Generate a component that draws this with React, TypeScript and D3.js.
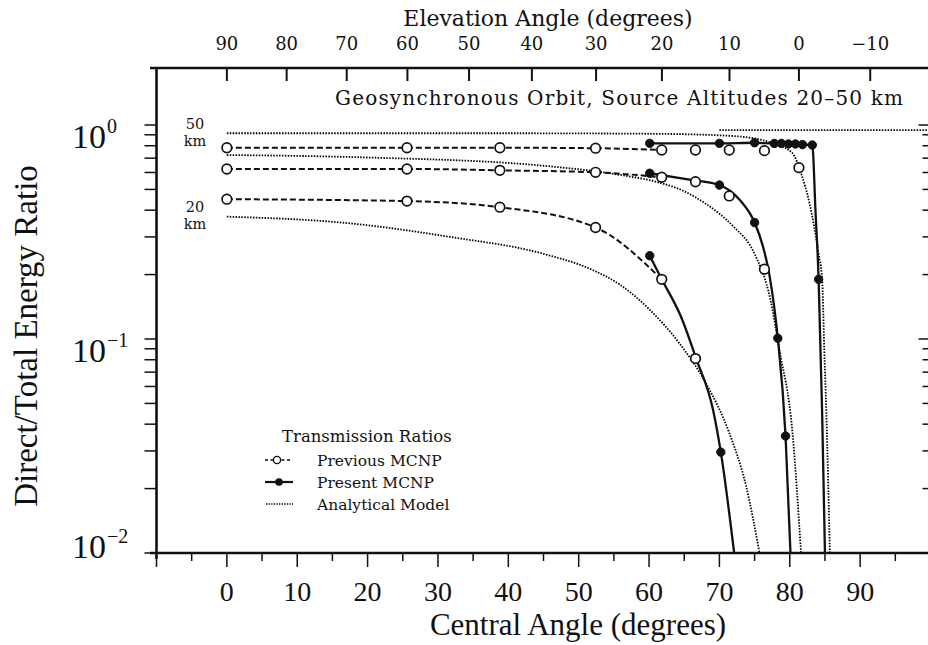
import React from 'react';
import * as d3 from 'd3';

const W = 928;
const H = 645;

// ---------- axis values ----------
const centralTickLabels = [0, 10, 20, 30, 40, 50, 60, 70, 80, 90];
const elevationTickLabels = [90, 80, 70, 60, 50, 40, 30, 20, 10, 0, -10];
const decadeValues = [1, 0.1, 0.01];
const decadeExponents = ['0', '\u22121', '\u22122'];
const EARTH_RADIUS_KM = 6378;
const GEO_RADIUS_KM = 42164;

// ---------- Previous MCNP (open circles) ----------
const prevAngles = [0, 25.6, 38.8, 52.4, 61.8, 66.6, 71.4, 76.4, 81.3];
const prev50 = [0.783, 0.783, 0.783, 0.779, 0.764, 0.764, 0.764, 0.759, 0.632];
const prevMid = [0.623, 0.623, 0.614, 0.601, 0.57, 0.543, 0.466, 0.212, null];
const prev20 = [0.45, 0.441, 0.413, 0.332, 0.19, 0.081, null, null, null];
const PREV_JOINED = 5; // first points joined by the dashed line

// ---------- Present MCNP (filled circles) ----------
const pres50Angles = [60.1, 70.0, 75.0, 77.8, 78.8, 79.8, 80.8, 81.8, 83.2, 84.1];
const pres50Values = [0.821, 0.821, 0.826, 0.82, 0.82, 0.815, 0.815, 0.81, 0.806, 0.19];
const presMidAngles = [60.1, 70.0, 75.0, 78.3, 79.4];
const presMidValues = [0.595, 0.524, 0.35, 0.1008, 0.0352];
const pres20Angles = [60.1, 70.2];
const pres20Values = [0.245, 0.0296];

// solid curves through the present results
const fit50Angles = [60.1, 70, 75, 77.8, 78.8, 79.8, 80.8, 81.8, 83.2, 83.65, 84.1, 84.6, 85.0];
const fit50Values = [0.821, 0.821, 0.826, 0.82, 0.82, 0.815, 0.815, 0.81, 0.806, 0.4, 0.19, 0.045, 0.01];
const fitMidAngles = [60.1, 65.3, 70, 72.9, 75, 76.2, 77.1, 77.8, 78.3, 79.4, 80.1];
const fitMidValues = [0.595, 0.558, 0.524, 0.446, 0.35, 0.27, 0.2, 0.14, 0.1008, 0.0352, 0.01];
const fit20Angles = [60.1, 61.8, 64.5, 66.7, 69.1, 70.2, 72.1];
const fit20Values = [0.245, 0.19, 0.128, 0.081, 0.0466, 0.0296, 0.01];

// ---------- Analytical model (dotted) ----------
const ana50Angles = [0, 40, 60, 70, 75, 77.6, 80.4, 81.6, 82.8, 84.1, 84.6, 84.9, 85.2, 85.7];
const ana50Values = [0.915, 0.915, 0.91, 0.895, 0.865, 0.821, 0.737, 0.595, 0.431, 0.25, 0.19, 0.09, 0.045, 0.01];
const anaUpperAngles = [70, 100];
const anaUpperValues = [0.947, 0.947];
const anaMidAngles = [0, 20, 45, 55.8, 60.3, 65, 68, 70, 72, 75, 77.3, 78.5, 80.4, 81.6];
const anaMidValues = [0.724, 0.705, 0.645, 0.585, 0.55, 0.49, 0.43, 0.385, 0.335, 0.25, 0.15, 0.09, 0.036, 0.01];
const ana20Angles = [0, 17.5, 31.7, 45, 52, 55.8, 60.1, 64.3, 68.1, 71.4, 73.8, 75.7];
const ana20Values = [0.373, 0.347, 0.3, 0.25, 0.21, 0.18, 0.137, 0.0955, 0.062, 0.0364, 0.0205, 0.01];

const legendLabels = ['Previous MCNP', 'Present MCNP', 'Analytical Model'];

const SLAB = "'DejaVu Serif', serif";
const TIMES = "'Liberation Serif', 'Times New Roman', serif";

type P = [number, number];
const pair = (a: number[], v: (number | null)[]): P[] =>
  a.map((t, i) => [t, v[i]] as [number, number | null]).filter((d) => d[1] != null) as P[];

export default function App() {
  const x = d3.scaleLinear().domain([-10, 100]).range([156.5, 930.5]);
  const y = d3.scaleLog().domain([0.01, 1]).range([553, 125]);
  const left = x(-10);
  const right = x(100);
  const top = 68;
  const bottom = y(0.01);

  const smooth = d3
    .line<P>()
    .x((d) => x(d[0]))
    .y((d) => y(d[1]))
    .curve(d3.curveMonotoneX);

  const k = EARTH_RADIUS_KM / GEO_RADIUS_KM;
  const rad = Math.PI / 180;
  const elevToCentral = (e: number) => Math.acos(k * Math.cos(e * rad)) / rad - e;

  const minorX = d3.range(-10, 100, 5);
  const logTicks: number[] = [1];
  [0.1, 0.01].forEach((dec) => {
    for (let m = 1; m <= 9; m++) logTicks.push(m * dec);
  });
  const isDecade = (v: number) => decadeValues.some((d) => Math.abs(d - v) < 1e-9);

  const prevSeries = [prev50, prevMid, prev20];
  const presSeries: [number[], number[]][] = [
    [pres50Angles, pres50Values],
    [presMidAngles, presMidValues],
    [pres20Angles, pres20Values],
  ];
  const fits: [number[], number[]][] = [
    [fit50Angles, fit50Values],
    [fitMidAngles, fitMidValues],
    [fit20Angles, fit20Values],
  ];
  const anas: [number[], number[]][] = [
    [ana50Angles, ana50Values],
    [anaUpperAngles, anaUpperValues],
    [anaMidAngles, anaMidValues],
    [ana20Angles, ana20Values],
  ];

  const dashed = '6 3';
  const dotted = '1.5 1.4';
  const legendX = 265;
  const legendRows = [466, 488, 510];

  return (
    <svg
      width={W}
      height={H}
      viewBox={`0 0 ${W} ${H}`}
      style={{ position: 'absolute', left: 0, top: 0, background: '#fff', display: 'block' }}
    >
      <rect x={0} y={0} width={W} height={H} fill="#fff" />
      <defs>
        <clipPath id="plot">
          <rect x={left} y={top} width={right - left} height={bottom - top} />
        </clipPath>
      </defs>

      {/* Top elevation axis */}
      <text x={548} y={26} textAnchor="middle" fontFamily={SLAB} fontSize={22} fill="#111">
        Elevation Angle (degrees)
      </text>
      {elevationTickLabels.map((e) => {
        const px = x(elevToCentral(e));
        return (
          <g key={'el' + e}>
            <line x1={px} x2={px} y1={top} y2={top + 13} stroke="#111" strokeWidth={2} />
            <text x={px} y={50} textAnchor="middle" fontFamily={SLAB} fontSize={18} fill="#111">
              {e < 0 ? '\u2212' + Math.abs(e) : e}
            </text>
          </g>
        );
      })}

      {/* Frame */}
      <line x1={150} x2={right} y1={top} y2={top} stroke="#111" strokeWidth={2.6} />
      <line x1={150} x2={right} y1={bottom} y2={bottom} stroke="#111" strokeWidth={2.6} />
      <line x1={left} x2={left} y1={top - 1} y2={bottom + 6} stroke="#111" strokeWidth={2.6} />

      {/* Bottom ticks */}
      {minorX.map((t) => {
        const major = t % 10 === 0;
        return (
          <line
            key={'bx' + t}
            x1={x(t)}
            x2={x(t)}
            y1={bottom}
            y2={bottom + (major ? 14 : 8)}
            stroke="#111"
            strokeWidth={1.5}
          />
        );
      })}
      {centralTickLabels.map((t) => (
        <text key={'bl' + t} x={x(t)} y={601} textAnchor="middle" fontFamily={TIMES} fontSize={28} fill="#111">
          {t}
        </text>
      ))}
      <text x={578} y={635} textAnchor="middle" fontFamily={TIMES} fontSize={31} fill="#111">
        Central Angle (degrees)
      </text>

      {/* Left log axis */}
      {logTicks.map((v) => (
        <line key={'ly' + v} x1={left - 12} x2={left} y1={y(v)} y2={y(v)} stroke="#111" strokeWidth={1.5} />
      ))}
      {/* Right ticks (axis line itself lies just outside the picture) */}
      {logTicks.map((v) => (
        <line
          key={'ry' + v}
          x1={right - (isDecade(v) ? 12 : 8)}
          x2={right}
          y1={y(v)}
          y2={y(v)}
          stroke="#111"
          strokeWidth={1.5}
        />
      ))}
      {decadeValues.map((v, i) => (
        <text
          key={'dl' + v}
          x={72}
          y={y(v) + (i < 2 ? 23 : 5)}
          fontFamily={TIMES}
          fontSize={34}
          fill="#111"
        >
          10
          <tspan fontSize={20} dy={-15} dx={1}>
            {decadeExponents[i]}
          </tspan>
        </text>
      ))}
      <text
        transform={`translate(37, 336) rotate(-90)`}
        textAnchor="middle"
        fontFamily={TIMES}
        fontSize={33}
        fill="#111"
      >
        Direct/Total Energy Ratio
      </text>

      {/* Annotations */}
      <text x={335} y={105} fontFamily={SLAB} fontSize={20} fill="#111" textLength={568} lengthAdjust="spacing">
        Geosynchronous Orbit, Source Altitudes 20{'\u2013'}50 km
      </text>
      <text x={195} y={129} textAnchor="middle" fontFamily={SLAB} fontSize={14.5} fill="#111">
        50
      </text>
      <text x={195} y={146} textAnchor="middle" fontFamily={SLAB} fontSize={14.5} fill="#111">
        km
      </text>
      <text x={195} y={212} textAnchor="middle" fontFamily={SLAB} fontSize={14.5} fill="#111">
        20
      </text>
      <text x={195} y={229} textAnchor="middle" fontFamily={SLAB} fontSize={14.5} fill="#111">
        km
      </text>

      {/* Data */}
      <g clipPath="url(#plot)" fill="none">
        {anas.map(([a, v], i) => (
          <path key={'ana' + i} d={smooth(pair(a, v)) || ''} stroke="#000" strokeWidth={1.8} strokeDasharray={dotted} />
        ))}
        {prevSeries.map((v, i) => (
          <path
            key={'prevl' + i}
            d={smooth(pair(prevAngles.slice(0, PREV_JOINED), v.slice(0, PREV_JOINED))) || ''}
            stroke="#111"
            strokeWidth={2}
            strokeDasharray={dashed}
          />
        ))}
        {fits.map(([a, v], i) => (
          <path key={'fit' + i} d={smooth(pair(a, v)) || ''} stroke="#111" strokeWidth={2.3} />
        ))}
        {prevSeries.map((v, i) =>
          pair(prevAngles, v).map((d, j) => (
            <circle key={'pc' + i + '-' + j} cx={x(d[0])} cy={y(d[1])} r={4.8} fill="#fff" stroke="#111" strokeWidth={1.7} />
          ))
        )}
        {presSeries.map(([a, v], i) =>
          pair(a, v).map((d, j) => (
            <circle key={'fc' + i + '-' + j} cx={x(d[0])} cy={y(d[1])} r={4.2} fill="#111" stroke="#111" strokeWidth={1} />
          ))
        )}
      </g>

      {/* Legend */}
      <text x={282} y={442} fontFamily={SLAB} fontSize={16.5} fill="#111">
        Transmission Ratios
      </text>
      <line x1={legendX} x2={legendX + 27} y1={legendRows[0] - 6} y2={legendRows[0] - 6} stroke="#111" strokeWidth={1.6} strokeDasharray="3 2.5" />
      <circle cx={legendX + 12} cy={legendRows[0] - 6} r={3.6} fill="#fff" stroke="#111" strokeWidth={1.4} />
      <line x1={legendX} x2={legendX + 28} y1={legendRows[1] - 6} y2={legendRows[1] - 6} stroke="#111" strokeWidth={2.2} />
      <circle cx={legendX + 14} cy={legendRows[1] - 6} r={3.8} fill="#111" />
      <line x1={legendX + 1} x2={legendX + 28} y1={legendRows[2] - 6} y2={legendRows[2] - 6} stroke="#000" strokeWidth={1.5} strokeDasharray="1.3 1.3" />
      {legendLabels.map((l, i) => (
        <text key={l} x={317} y={legendRows[i]} fontFamily={SLAB} fontSize={15.5} fill="#111">
          {l}
        </text>
      ))}
    </svg>
  );
}
